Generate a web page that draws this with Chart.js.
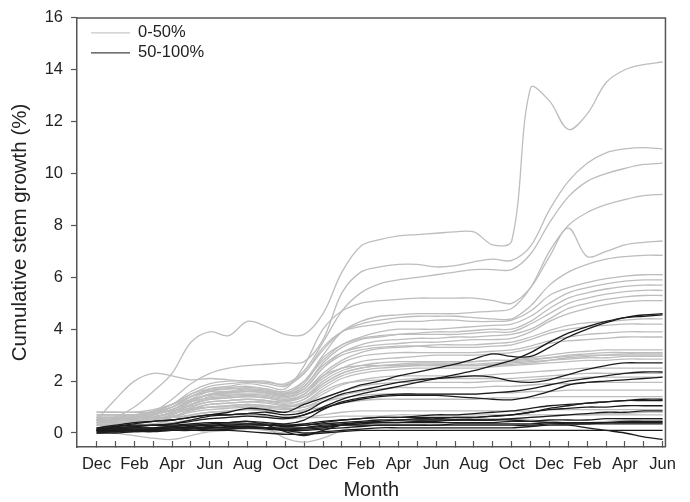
<!DOCTYPE html>
<html>
<head>
<meta charset="utf-8">
<script src="https://cdn.jsdelivr.net/npm/chart.js@4.4.0/dist/chart.umd.min.js"></script>
<style>
  html, body { margin: 0; padding: 0; background: #fff; }
  #wrap { width: 690px; height: 502px; }
</style>
</head>
<body>
<div id="wrap"><canvas id="c" width="690" height="502"></canvas></div>
<script>
// Months since the first December (one sample per month, Dec .. Jun, 2.5 years)
const months = [0,1,2,3,4,5,6,7,8,9,10,11,12,13,14,15,16,17,18,19,20,21,22,23,24,25,26,27,28,29,30];
// Labels for every second month
const tickLabels = ['Dec','Feb','Apr','Jun','Aug','Oct','Dec','Feb','Apr','Jun','Aug','Oct','Dec','Feb','Apr','Jun'];
const yTicks = [0,2,4,6,8,10,12,14,16];

// Cumulative stem growth (%) per tree, 0-50% class
const g01 = [0.4,0.6,1.0,1.6,2.3,3.5,3.9,3.75,4.3,4.1, 3.8,3.8,4.6,6.2,7.2,7.45,7.6,7.65,7.7,7.75, 7.75,7.25,7.4,13.3,12.8,11.7,12.3,13.5,14.0,14.2, 14.3];
const g02 = [0.5,0.5,0.55,0.8,1.3,1.9,2.3,2.5,2.6,2.65, 2.7,2.75,3.6,5.4,6.2,6.4,6.5,6.5,6.4,6.45, 6.6,6.7,6.65,7.2,8.6,9.7,10.4,10.8,10.95,11.0, 10.95];
const g03 = [0.6,0.6,0.65,0.8,1.1,1.6,1.9,2.0,2.0,1.95, 1.9,2.4,3.5,4.7,5.4,5.75,5.9,6.0,6.1,6.2, 6.3,6.3,6.3,6.9,8.1,9.1,9.7,10.0,10.2,10.35, 10.4];
const g04 = [0.6,0.6,0.7,0.8,1.0,1.4,1.7,1.8,1.9,1.8, 1.7,2.6,4.0,4.7,5.0,5.1,5.15,5.2,5.2,5.2, 5.2,5.1,5.0,5.6,6.8,7.9,6.8,7.0,7.25,7.35, 7.4];
const g05 = [0.5,0.5,0.55,0.7,0.9,1.2,1.5,1.6,1.7,1.6, 1.5,2.0,3.0,3.9,4.3,4.5,4.55,4.6,4.6,4.6, 4.65,4.7,4.8,5.6,7.0,8.0,8.5,8.8,9.0,9.15, 9.2];
const g06 = [0.5,0.5,0.6,0.8,1.1,1.5,1.8,1.9,1.95,1.9, 1.8,2.3,3.2,3.9,4.2,4.35,4.45,4.5,4.5,4.5, 4.45,4.4,4.4,4.9,5.7,6.2,6.5,6.7,6.8,6.85, 6.85];
const g07 = [0.5,1.3,2.0,2.3,2.2,2.05,2.1,2.05,2.0,2.0, 1.85,2.3,3.3,3.9,4.1,4.2,4.3,4.3,4.35,4.35, 4.3,4.3,4.35,4.7,5.3,5.6,5.8,5.95,6.05,6.1, 6.1];
const g08 = [0.7,0.7,0.7,0.85,1.1,1.5,1.7,1.75,1.8,1.7, 1.6,2.0,2.8,3.4,3.7,3.9,4.0,4.0,4.0,4.05, 4.1,4.15,4.2,4.5,5.0,5.4,5.6,5.75,5.85,5.9, 5.9];
const g09 = [0.6,0.6,0.6,0.7,0.9,1.3,1.6,1.7,1.7,1.65, 1.5,1.8,2.7,3.3,3.6,3.7,3.8,3.85,3.9,3.9, 3.95,4.0,4.0,4.3,4.8,5.2,5.4,5.55,5.65,5.7, 5.7];
const g10 = [0.5,0.5,0.55,0.7,1.0,1.4,1.65,1.7,1.75,1.7, 1.55,1.9,2.9,3.4,3.65,3.75,3.8,3.8,3.8,3.8, 3.85,3.9,3.9,4.2,4.6,5.0,5.2,5.35,5.45,5.5, 5.5];
const g11 = [0.8,0.8,0.8,0.9,1.1,1.4,1.6,1.6,1.65,1.6, 1.5,1.7,2.5,3.1,3.4,3.55,3.6,3.65,3.65,3.7, 3.7,3.75,3.8,4.0,4.4,4.8,5.0,5.15,5.25,5.3, 5.3];
const g12 = [0.4,0.4,0.45,0.6,0.8,1.2,1.5,1.55,1.6,1.55, 1.45,1.8,2.6,3.1,3.3,3.4,3.45,3.5,3.5,3.55, 3.6,3.6,3.65,3.9,4.3,4.6,4.8,4.95,5.05,5.1, 5.1];
const g13 = [0.7,0.7,0.7,0.8,1.0,1.3,1.45,1.5,1.5,1.45, 1.35,1.6,2.3,2.8,3.1,3.25,3.3,3.35,3.4,3.4, 3.4,3.45,3.5,3.7,3.95,4.15,4.25,4.3,4.35,4.4, 4.4];
const g14 = [0.3,0.3,0.35,0.5,0.7,1.1,1.4,1.45,1.5,1.5, 1.4,1.7,2.5,3.0,3.2,3.3,3.35,3.35,3.3,3.3, 3.3,3.35,3.4,3.6,3.85,4.0,4.1,4.15,4.2,4.2, 4.2];
const g15 = [0.6,0.6,0.6,0.7,0.9,1.2,1.35,1.4,1.45,1.4, 1.3,1.5,2.2,2.7,2.95,3.05,3.1,3.1,3.1,3.1, 3.1,3.15,3.2,3.35,3.55,3.7,3.8,3.85,3.9,3.9, 3.9];
const g16 = [0.5,0.5,0.5,0.6,0.8,1.1,1.3,1.35,1.4,1.35, 1.25,1.5,2.1,2.5,2.75,2.85,2.9,2.95,3.0,3.0, 3.0,3.05,3.1,3.25,3.45,3.55,3.6,3.65,3.7,3.7, 3.7];
const g17 = [0.4,0.4,0.45,0.55,0.7,1.0,1.2,1.25,1.3,1.25, 1.15,1.3,1.9,2.3,2.5,2.6,2.65,2.7,2.7,2.7, 2.75,2.8,2.8,2.9,3.0,3.1,3.15,3.2,3.2,3.2, 3.2];
const g18 = [0.7,0.7,0.7,0.75,0.85,1.05,1.2,1.25,1.3,1.25, 1.2,1.4,2.0,2.4,2.6,2.7,2.75,2.75,2.75,2.75, 2.75,2.8,2.8,2.85,2.9,2.95,3.0,3.0,3.05,3.05, 3.05];
const g19 = [0.3,0.3,0.35,0.45,0.6,0.9,1.1,1.15,1.2,1.2, 1.1,1.3,1.8,2.2,2.4,2.5,2.55,2.6,2.6,2.6, 2.6,2.65,2.7,2.75,2.8,2.85,2.9,2.9,2.95,2.95, 2.95];
const g20 = [0.5,0.5,0.5,0.6,0.75,0.95,1.1,1.15,1.2,1.15, 1.05,1.2,1.7,2.1,2.3,2.4,2.45,2.5,2.5,2.5, 2.5,2.55,2.6,2.65,2.7,2.75,2.8,2.8,2.85,2.85, 2.85];
const g21 = [0.6,0.6,0.6,0.65,0.75,0.9,1.0,1.05,1.1,1.05, 1.0,1.1,1.5,1.85,2.05,2.15,2.2,2.2,2.2,2.2, 2.2,2.25,2.3,2.35,2.4,2.45,2.5,2.5,2.5,2.5, 2.5];
const g22 = [0.4,0.4,0.4,0.5,0.6,0.8,0.9,0.95,1.0,0.95, 0.9,1.0,1.3,1.6,1.8,1.9,1.95,1.95,1.95,1.95, 1.95,2.0,2.0,2.05,2.1,2.1,2.15,2.15,2.15,2.15, 2.15];
const g23 = [0.2,0.2,0.25,0.35,0.5,0.7,0.8,0.85,0.9,0.85, 0.8,0.9,1.2,1.45,1.6,1.7,1.75,1.75,1.75,1.75, 1.75,1.8,1.8,1.85,1.9,1.9,1.95,1.95,1.95,1.95, 1.95];
const g24 = [0.8,0.8,0.8,0.8,0.85,0.95,1.0,1.0,1.05,1.0, 0.95,1.0,1.2,1.35,1.45,1.5,1.5,1.5,1.5,1.5, 1.5,1.55,1.55,1.6,1.6,1.65,1.65,1.65,1.65,1.65, 1.65];
const g25 = [0.5,0.5,0.5,0.55,0.6,0.7,0.8,0.85,0.9,0.85, 0.8,0.85,1.0,1.15,1.25,1.3,1.3,1.3,1.3,1.3, 1.3,1.35,1.35,1.35,1.4,1.4,1.4,1.4,1.4,1.4, 1.4];
const g26 = [0.3,0.3,0.3,0.35,0.4,0.5,0.55,0.6,0.65,0.6, 0.55,0.6,0.7,0.8,0.85,0.85,0.85,0.85,0.85,0.85, 0.85,0.85,0.85,0.85,0.9,0.9,0.9,0.9,0.9,0.9, 0.9];
const g27 = [0.6,0.6,0.6,0.6,0.6,0.65,0.7,0.7,0.7,0.65, 0.6,0.6,0.6,0.65,0.65,0.65,0.7,0.7,0.7,0.7, 0.7,0.7,0.7,0.7,0.7,0.7,0.7,0.7,0.7,0.7, 0.7];
const g28 = [0.1,0.0,-0.1,-0.2,-0.25,-0.1,0.05,0.1,0.15,0.1, 0.0,0.1,0.2,0.3,0.35,0.4,0.45,0.5,0.5,0.5, 0.5,0.5,0.55,0.6,0.65,0.7,0.7,0.75,0.75,0.8, 0.8];
const g29 = [0.3,0.3,0.3,0.3,0.3,0.35,0.4,0.4,0.4,0.2, -0.2,-0.35,-0.2,0.1,0.3,0.4,0.45,0.5,0.55,0.55, 0.55,0.55,0.55,0.5,0.45,0.4,0.4,0.45,0.5,0.5, 0.5];
const g30 = [0.45,0.45,0.5,0.6,0.8,1.1,1.3,1.35,1.4,1.35, 1.25,1.4,1.9,2.3,2.5,2.6,2.6,2.65,2.65,2.65, 2.65,2.7,2.75,2.8,2.9,3.0,3.05,3.1,3.1,3.1, 3.1];
const g31 = [0.55,0.55,0.6,0.7,0.9,1.25,1.5,1.55,1.6,1.55, 1.4,1.6,2.2,2.5,2.6,2.6,2.6,2.6,2.6,2.6, 2.6,2.6,2.65,2.7,2.8,2.9,2.95,3.0,3.0,3.0, 3.0];
const g32 = [0.35,0.35,0.4,0.5,0.65,0.85,1.0,1.05,1.1,1.05, 1.0,1.15,1.6,1.9,2.0,2.05,2.05,2.1,2.1,2.1, 2.1,2.1,2.1,2.15,2.2,2.25,2.3,2.3,2.3,2.3, 2.3];

// Cumulative stem growth (%) per tree, 50-100% class
const k01 = [0.1,0.25,0.35,0.45,0.5,0.6,0.7,0.8,0.95,0.9, 0.8,1.1,1.35,1.6,1.85,2.0,2.2,2.35,2.5,2.65, 2.85,3.05,2.95,2.95,3.3,3.7,4.0,4.25,4.45,4.55, 4.6];
const k02 = [0.15,0.2,0.25,0.3,0.35,0.45,0.55,0.6,0.65,0.6, 0.55,0.7,1.0,1.3,1.5,1.65,1.8,1.95,2.1,2.25, 2.4,2.6,2.8,3.1,3.5,3.85,4.1,4.3,4.45,4.5, 4.55];
const k03 = [0.15,0.2,0.25,0.3,0.35,0.5,0.65,0.7,0.75,0.8, 0.7,0.8,1.2,1.5,1.65,1.8,1.95,2.05,2.1,2.15, 2.2,2.15,2.0,1.95,2.05,2.25,2.45,2.6,2.7,2.7, 2.7];
const k04 = [0.1,0.15,0.2,0.2,0.25,0.3,0.35,0.4,0.45,0.4, 0.35,0.5,0.9,1.2,1.35,1.45,1.5,1.5,1.5,1.5, 1.5,1.55,1.6,1.7,1.85,2.0,2.1,2.2,2.3,2.35, 2.35];
const k05 = [0.2,0.3,0.4,0.45,0.5,0.6,0.7,0.7,0.75,0.7, 0.6,0.7,0.95,1.15,1.3,1.4,1.45,1.45,1.45,1.4, 1.35,1.3,1.28,1.4,1.6,1.85,1.95,2.0,2.05,2.1, 2.15];
const k06 = [0.05,0.1,0.1,0.15,0.15,0.2,0.25,0.3,0.3,0.3, 0.25,0.3,0.4,0.5,0.55,0.6,0.6,0.65,0.7,0.7, 0.75,0.8,0.85,0.95,1.05,1.1,1.15,1.2,1.25,1.25, 1.25];
const k07 = [0.1,0.1,0.15,0.15,0.2,0.25,0.3,0.3,0.35,0.3, 0.3,0.3,0.35,0.4,0.45,0.5,0.5,0.55,0.55,0.6, 0.6,0.65,0.7,0.8,0.9,0.95,1.0,1.0,1.05,1.05, 1.05];
const k08 = [0.0,0.05,0.1,0.1,0.1,0.15,0.2,0.2,0.2,0.2, 0.15,0.15,0.2,0.3,0.35,0.4,0.4,0.45,0.45,0.5, 0.5,0.5,0.55,0.6,0.65,0.7,0.75,0.8,0.8,0.85, 0.85];
const k09 = [0.1,0.1,0.1,0.15,0.15,0.2,0.2,0.2,0.25,0.2, 0.15,0.2,0.3,0.35,0.4,0.4,0.4,0.4,0.4,0.4, 0.4,0.4,0.45,0.45,0.5,0.5,0.5,0.55,0.55,0.55, 0.55];
const k10 = [0.05,0.05,0.05,0.1,0.1,0.1,0.15,0.15,0.2,0.15, 0.1,0.1,0.15,0.2,0.25,0.3,0.3,0.3,0.3,0.35, 0.35,0.35,0.35,0.35,0.4,0.4,0.4,0.4,0.4,0.4, 0.4];
const k11 = [0.15,0.15,0.15,0.15,0.2,0.2,0.2,0.25,0.25,0.2, 0.2,0.2,0.25,0.3,0.3,0.3,0.3,0.3,0.3,0.3, 0.3,0.3,0.3,0.3,0.35,0.35,0.35,0.35,0.35,0.35, 0.35];
const k12 = [0.1,0.1,0.1,0.1,0.1,0.1,0.1,0.1,0.05,0.0, -0.05,-0.05,0.0,0.05,0.1,0.1,0.1,0.1,0.1,0.1, 0.1,0.1,0.1,0.1,0.1,0.1,0.1,0.1,0.1,0.1, 0.1];
const k13 = [0.0,0.0,0.05,0.05,0.1,0.1,0.1,0.15,0.2,0.2, 0.1,0.0,0.05,0.1,0.15,0.2,0.2,0.2,0.2,0.2, 0.2,0.2,0.2,0.25,0.3,0.3,0.2,0.1,0.0,-0.15, -0.25];
const k14 = [0.1,0.15,0.2,0.2,0.25,0.3,0.3,0.35,0.35,0.35, 0.3,0.35,0.45,0.5,0.55,0.6,0.6,0.6,0.6,0.6, 0.6,0.65,0.7,0.8,0.95,1.05,1.15,1.2,1.25,1.3, 1.3];
const k15 = [0.2,0.25,0.3,0.3,0.3,0.35,0.4,0.4,0.45,0.3, 0.05,-0.1,0.1,0.3,0.4,0.45,0.5,0.5,0.5,0.5, 0.5,0.5,0.5,0.45,0.4,0.35,0.35,0.4,0.45,0.45, 0.45];

const lowClass = [g01,g02,g03,g04,g05,g06,g07,g08,g09,g10,g11,g12,g13,g14,g15,g16,
                  g17,g18,g19,g20,g21,g22,g23,g24,g25,g26,g27,g28,g29,g30,g31,g32];
const highClass = [k01,k02,k03,k04,k05,k06,k07,k08,k09,k10,k11,k12,k13,k14,k15];

const classNames = ['0-50%', '50-100%'];
const classColors = ['#bdbdbd', '#1c1c1c'];

const FONT = "'Liberation Sans', Arial, sans-serif";
const TEXT = '#222';
const AXIS = '#555';

function series(values, cls) {
  return {
    label: classNames[cls],
    data: months.map((m, j) => ({ x: m, y: values[j] })),
    borderColor: classColors[cls],
    borderWidth: 1.3,
    pointRadius: 0,
    fill: false,
    tension: 0.35,
    order: cls === 1 ? 0 : 1
  };
}

const datasets = [
  ...highClass.map(v => series(v, 1)),
  ...lowClass.map(v => series(v, 0))
];

// Box around the plot area (top and right edges; left and bottom come from the axes)
const frame = {
  id: 'frame',
  afterDraw(chart) {
    const { ctx, chartArea: a } = chart;
    ctx.save();
    ctx.strokeStyle = AXIS;
    ctx.lineWidth = 1.5;
    ctx.beginPath();
    ctx.moveTo(a.left, a.top);
    ctx.lineTo(a.right, a.top);
    ctx.lineTo(a.right, a.bottom);
    ctx.stroke();
    ctx.restore();
  }
};

// Two-entry key in the upper left corner of the plot
const key = {
  id: 'key',
  afterDraw(chart) {
    const { ctx, chartArea: a } = chart;
    ctx.save();
    ctx.font = '16.5px ' + FONT;
    ctx.textBaseline = 'middle';
    ctx.fillStyle = TEXT;
    classNames.forEach((name, i) => {
      const y = a.top + 15 + i * 20;
      ctx.strokeStyle = i === 0 ? '#c8c8c8' : '#444';
      ctx.lineWidth = 1.3;
      ctx.beginPath();
      ctx.moveTo(a.left + 14, y);
      ctx.lineTo(a.left + 53, y);
      ctx.stroke();
      ctx.fillText(name, a.left + 61, y);
    });
    ctx.restore();
  }
};

new Chart(document.getElementById('c'), {
  type: 'line',
  data: { datasets },
  plugins: [frame, key],
  options: {
    responsive: false,
    animation: false,
    layout: { padding: { top: 17, right: 15, left: 0, bottom: 0 } },
    plugins: { legend: { display: false }, tooltip: { enabled: false } },
    scales: {
      x: {
        type: 'linear',
        min: -1.04,
        max: 30.15,
        afterBuildTicks: s => { s.ticks = months.map(v => ({ value: v })); },
        afterFit: s => { s.height = 55; },
        ticks: {
          autoSkip: false,
          maxRotation: 0,
          padding: 14,
          color: TEXT,
          font: { family: FONT, size: 16.5 },
          callback: (v, i) => (i % 2 === 0 ? tickLabels[i / 2] : '')
        },
        grid: { drawOnChartArea: false, drawTicks: true, tickLength: -6, color: AXIS, tickWidth: 1.2 },
        border: { color: AXIS, width: 1.5 },
        title: { display: true, text: 'Month', color: TEXT, font: { family: FONT, size: 20 }, padding: { top: 0, bottom: 0 } }
      },
      y: {
        type: 'linear',
        min: -0.54,
        max: 16,
        afterBuildTicks: s => { s.ticks = yTicks.map(v => ({ value: v })); },
        afterFit: s => { s.width = 77; },
        ticks: { padding: 8, color: TEXT, font: { family: FONT, size: 16.5 } },
        grid: { drawOnChartArea: false, drawTicks: true, tickLength: 6, color: AXIS, tickWidth: 1.2 },
        border: { color: AXIS, width: 1.5 },
        title: { display: true, text: 'Cumulative stem growth (%)', color: TEXT, font: { family: FONT, size: 20.5 }, padding: { top: 8, bottom: 0 } }
      }
    }
  }
});
</script>
</body>
</html>
